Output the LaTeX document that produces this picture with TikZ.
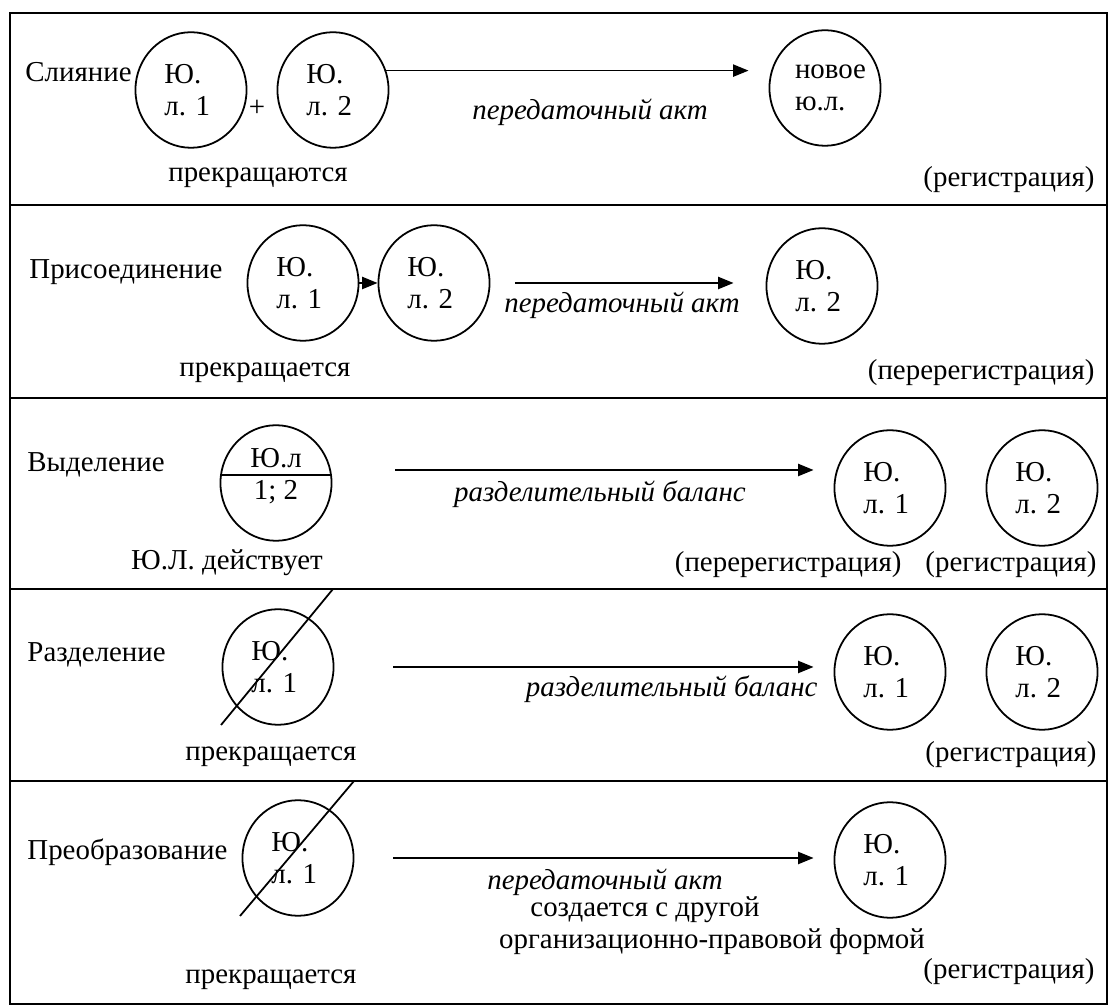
\documentclass[tikz,border=0pt]{standalone}
\usepackage{fontspec}
\setmainfont{Liberation Serif}
\frenchspacing
\usetikzlibrary{arrows.meta,shapes.geometric,positioning}
\tikzset{
    frame/.style={line width=0.8pt},
    ent/.style={draw, ellipse, line width=0.8pt, minimum width=50pt, minimum height=52pt, inner sep=1pt, align=left, text width=24pt},
    flow/.style={-{Triangle[length=7pt, width=5.5pt]}, line width=0.8pt},
    strike/.style={line width=0.8pt},
    rowlbl/.style={anchor=west, inner sep=0pt},
    act/.style={font=\fontsize{13}{14.5}\selectfont\itshape}
}

\begin{document}
\begin{tikzpicture}[x=0.45pt, y=-0.45pt, font=\fontsize{13}{14.5}\selectfont]
\useasboundingbox (0,0) rectangle (1111,1007);
% frame and rows
\draw[frame] (10,13) rectangle (1107,1004);
\foreach \y in {205,398,589,781}
  \draw[frame] (10,\y) -- (1107,\y);

% merger
\node[rowlbl] (L1) at (25,72) {Слияние};
\node[ent] (A1) at (191,90) {Ю.\\л. 1};
\node (plus) at (257,108) {+};
\node[ent] (A2) at (333,90) {Ю.\\л. 2};
\node[ent, text width=27pt] (A3) at (825,88) {новое\\ю.л.};
\draw[flow, shorten >=9pt] (A2.20) -- (A2.20 -| A3.west);
\node[act] (A4) at (590,112) {передаточный акт};
\node (A5) at (258,178) {прекращаются};
\node[anchor=east, inner sep=0pt] (A6) at (1095,180) {(регистрация)};

% accession
\node[rowlbl] (L2) at (29,272) {Присоединение};
\node[ent] (B1) at (303,283) {Ю.\\л. 1};
\node[ent] (B2) at (434,283) {Ю.\\л. 2};
\node[ent] (B3) at (822,286) {Ю.\\л. 2};
\draw[flow] (B1) -- (B2);
\draw[flow, shorten <=11pt, shorten >=14.4pt] (B2.east) -- (B2.east -| B3.west);
\node[act] (B4) at (622,305) {передаточный акт};
\node (B5) at (265,373) {прекращается};
\node[anchor=east, inner sep=0pt] (B6) at (1095,373) {(перерегистрация)};

% spin-off
\node[rowlbl] (L3) at (27,465) {Выделение};
\node[ent] (C1) at (276,483) {};
\draw[strike] (C1.172) -- (C1.8);
\node[align=center] (C1t) at (276,476) {Ю.л\\1; 2};
\node[ent] (C2) at (890,488) {Ю.\\л. 1};
\node[ent] (C3) at (1042,488) {Ю.\\л. 2};
\coordinate (C0) at (395,470);
\draw[flow, shorten >=9pt] (C0) -- (C0 -| C2.west);
\node[act] (C4) at (600,494) {разделительный баланс};
\node (C5) at (227,563) {Ю.Л. действует};
\node[anchor=east, inner sep=0pt] (C6) at (902,565) {(перерегистрация)};
\node[anchor=east, inner sep=0pt] (C7) at (1097,565) {(регистрация)};

% division
\node[rowlbl] (L4) at (27,655) {Разделение};
\node[ent] (D1) at (278,667) {Ю.\\л. 1};
\coordinate (D1a) at (221,725);
\coordinate (D1b) at (333,589);
\draw[strike] (D1a) -- (D1b);
\node[ent] (D2) at (890,672) {Ю.\\л. 1};
\node[ent] (D3) at (1042,672) {Ю.\\л. 2};
\coordinate (D0) at (393,667);
\draw[flow, shorten >=9pt] (D0) -- (D0 -| D2.west);
\node[act, anchor=east, inner sep=0pt] (D4) at (818,689) {разделительный баланс};
\node (D5) at (271,757) {прекращается};
\node[anchor=east, inner sep=0pt] (D6) at (1097,755) {(регистрация)};

% transformation
\node[rowlbl] (L5) at (27,852) {Преобразование};
\node[ent] (E1) at (298,858) {Ю.\\л. 1};
\coordinate (E1a) at (240,916);
\coordinate (E1b) at (354,781);
\draw[strike] (E1a) -- (E1b);
\node[ent] (E2) at (890,860) {Ю.\\л. 1};
\coordinate (E0) at (393,858);
\draw[flow, shorten >=9pt] (E0) -- (E0 -| E2.west);
\node[act] (E4) at (605,882) {передаточный акт};
\node (E5) at (645,910) {создается с другой};
\node (E6) at (712,942) {организационно-правовой формой};
\node[anchor=east, inner sep=0pt] (E7) at (1095,972) {(регистрация)};
\node (E8) at (271,980) {прекращается};
\end{tikzpicture}
\end{document}
